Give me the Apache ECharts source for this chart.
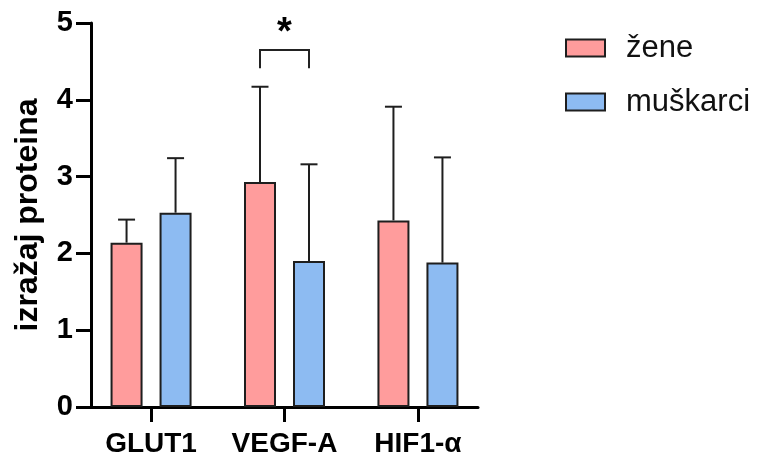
<!DOCTYPE html>
<html>
<head>
<meta charset="utf-8">
<script src="https://cdn.jsdelivr.net/npm/echarts@6/dist/echarts.min.js"></script>
<style>
html,body{margin:0;padding:0;background:#fff;}
#chart{width:758px;height:461px;}
</style>
</head>
<body>
<div id="chart"></div>
<script>
// ---- data ----
const categories = ['GLUT1', 'VEGF-A', 'HIF1-α'];
const seriesNames = ['žene', 'muškarci'];
const zeneMean = [2.14, 2.93, 2.43];
const zeneSD = [0.30, 1.24, 1.48];
const muskarciMean = [2.53, 1.90, 1.88];
const muskarciSD = [0.71, 1.26, 1.37];
const yTickValues = [0, 1, 2, 3, 4, 5];
const yAxisTitle = 'izražaj proteina';
// significance: [category index, bracket level, bracket leg end, star level]
const sigBracket = [[1, 4.65, 4.41, 4.86]];
const sigLabel = '*';

// ---- style ----
const FONT = 'Liberation Sans, Arial, Helvetica, sans-serif';
const PINK = '#FF9C9C';
const BLUE = '#8DBBF2';
const EDGE = '#1e1e1e';
const BAR_W = 32;
const BAR_GAP_PX = 17;
const HALF = (BAR_W + BAR_GAP_PX) / 2;
const CAP = 17;

const catIdx = categories.map((c, i) => i);

function errSeries(means, sds, offset) {
  return {
    type: 'custom',
    z: 5,
    silent: true,
    data: means.map((m, i) => [catIdx[i], m, m + sds[i]]),
    encode: { x: 0, y: [1, 2] },
    renderItem: function (params, api) {
      const x = api.value(0);
      const p0 = api.coord([x, api.value(1)]);
      const p1 = api.coord([x, api.value(2)]);
      const cx = p0[0] + offset;
      const st = { stroke: EDGE, lineWidth: 2 };
      return {
        type: 'group',
        children: [
          { type: 'line', shape: { x1: cx, y1: p0[1], x2: cx, y2: p1[1] }, style: st },
          { type: 'line', shape: { x1: cx - CAP / 2, y1: p1[1], x2: cx + CAP / 2, y2: p1[1] }, style: st }
        ]
      };
    }
  };
}

const chart = echarts.init(document.getElementById('chart'));
chart.setOption({
  animation: false,
  backgroundColor: '#fff',
  grid: { left: 91, right: 280, top: 23, bottom: 54, containLabel: false, outerBoundsMode: 'none' },
  legend: {
    data: seriesNames,
    orient: 'vertical',
    left: 560,
    top: 26,
    itemWidth: 39,
    itemHeight: 17,
    itemGap: 20,
    icon: 'rect',
    selectedMode: false,
    textStyle: { fontFamily: FONT, fontSize: 31, color: '#111', lineHeight: 34, padding: [0, 0, 0, 16] }
  },
  xAxis: {
    type: 'value',
    min: -0.45,
    max: 2.45,
    splitLine: { show: false },
    axisLine: { show: true, onZero: false, lineStyle: { color: '#000', width: 3 } },
    axisTick: { show: true, customValues: catIdx, length: 15, lineStyle: { color: '#000', width: 3 } },
    axisLabel: {
      customValues: catIdx,
      formatter: v => categories[Math.round(v)],
      fontFamily: FONT, fontSize: 28, fontWeight: 'bold', color: '#000', margin: 23
    }
  },
  yAxis: {
    type: 'value',
    min: 0,
    max: 5,
    interval: 1,
    name: yAxisTitle,
    nameLocation: 'middle',
    nameGap: 47,
    nameRotate: 90,
    nameMoveOverlap: false,
    nameTextStyle: { fontFamily: FONT, fontSize: 32, fontWeight: 'bold', color: '#000' },
    splitLine: { show: false },
    axisLine: { show: true, onZero: false, lineStyle: { color: '#000', width: 3 } },
    axisTick: { show: true, length: 15, lineStyle: { color: '#000', width: 3 } },
    axisLabel: {
      formatter: v => (yTickValues.indexOf(v) >= 0 ? String(v) : ''),
      fontFamily: FONT, fontSize: 29, fontWeight: 'bold', color: '#000', margin: 18
    }
  },
  series: [
    {
      name: seriesNames[0],
      type: 'bar',
      barWidth: BAR_W,
      barGap: (BAR_GAP_PX / BAR_W * 100) + '%',
      data: zeneMean.map((m, i) => [catIdx[i], m]),
      itemStyle: { color: PINK, borderColor: EDGE, borderWidth: 2 }
    },
    {
      name: seriesNames[1],
      type: 'bar',
      barWidth: BAR_W,
      barGap: (BAR_GAP_PX / BAR_W * 100) + '%',
      data: muskarciMean.map((m, i) => [catIdx[i], m]),
      itemStyle: { color: BLUE, borderColor: EDGE, borderWidth: 2 }
    },
    errSeries(zeneMean, zeneSD, -HALF),
    errSeries(muskarciMean, muskarciSD, HALF),
    {
      type: 'custom',
      z: 5,
      silent: true,
      data: sigBracket,
      encode: { x: 0, y: [1, 2, 3] },
      renderItem: function (params, api) {
        const x = api.value(0);
        const top = api.coord([x, api.value(1)]);
        const leg = api.coord([x, api.value(2)]);
        const star = api.coord([x, api.value(3)]);
        const xl = top[0] - HALF, xr = top[0] + HALF;
        return {
          type: 'group',
          children: [
            { type: 'polyline', shape: { points: [[xl, leg[1]], [xl, top[1]], [xr, top[1]], [xr, leg[1]]] },
              style: { stroke: '#222', lineWidth: 2, fill: null } },
            { type: 'text', x: star[0], y: star[1],
              style: { text: sigLabel, fontFamily: FONT, fontSize: 38, fontWeight: 'bold', fill: '#000', align: 'center', verticalAlign: 'middle' } }
          ]
        };
      }
    }
  ]
});
</script>
</body>
</html>
